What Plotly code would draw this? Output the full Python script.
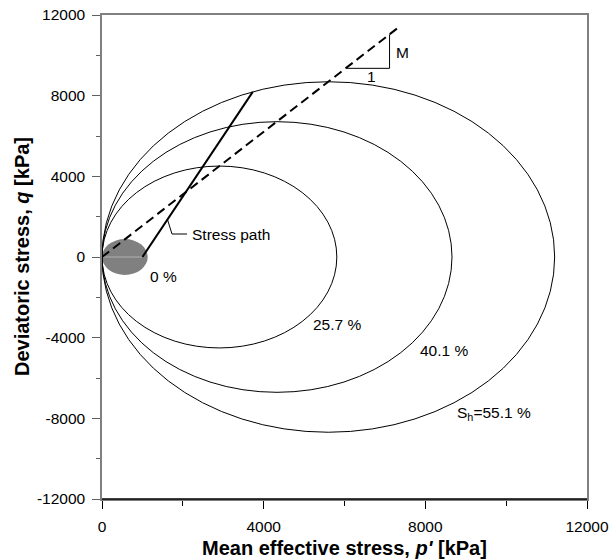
import plotly.graph_objects as go

# Yield surfaces (modified Cam-clay ellipses) for each hydrate saturation
sat_labels = ["0 %", "25.7 %", "40.1 %", "S<sub>h</sub>=55.1 %"]
p_c = [1130, 5810, 8660, 11200]      # right end of each ellipse, kPa
q_max = [890, 4510, 6710, 8690]      # ellipse half height, kPa

# Critical state line
csl_p = [0, 7300]
csl_q = [0, 11330]

# Stress path
sp_p = [1000, 3730]
sp_q = [0, 8190]

# Slope triangle
tri_p = [6060, 7115, 7115]
tri_q = [9355, 9355, 11040]

x_ticks = [0, 4000, 8000, 12000]
y_ticks = [-12000, -8000, -4000, 0, 4000, 8000, 12000]

FONT = "Liberation Sans, Arial, sans-serif"
FS = 15.5

W, H = 611, 559
L, R, T, B = 102, 24, 15, 60
pw, ph = W - L - R, H - T - B

fig = go.Figure()

fig.add_trace(go.Scatter(x=csl_p, y=csl_q, mode="lines",
                         line=dict(color="black", width=2, dash="9px,5px"),
                         showlegend=False, hoverinfo="skip"))
fig.add_trace(go.Scatter(x=sp_p, y=sp_q, mode="lines",
                         line=dict(color="black", width=2),
                         showlegend=False, hoverinfo="skip"))
fig.add_trace(go.Scatter(x=tri_p, y=tri_q, mode="lines",
                         line=dict(color="black", width=1),
                         showlegend=False, hoverinfo="skip"))
fig.add_trace(go.Scatter(x=[1624, 1732, 2103], y=[1834, 1140, 1140], mode="lines",
                         line=dict(color="black", width=1),
                         showlegend=False, hoverinfo="skip"))

shapes = []
for i, (pc, qm) in enumerate(zip(p_c, q_max)):
    if i == 0:
        shapes.append(dict(type="circle", xref="x", yref="y", x0=0, x1=pc, y0=-qm, y1=qm,
                           fillcolor="#808080", line=dict(width=0), layer="below"))
        shapes.append(dict(type="line", xref="x", yref="y", x0=0, x1=sp_p[0], y0=0, y1=0,
                           line=dict(color="#b0b0b0", width=1), layer="below"))
    else:
        shapes.append(dict(type="circle", xref="x", yref="y", x0=0, x1=pc, y0=-qm, y1=qm,
                           line=dict(color="black", width=1), layer="below"))
# black bottom axis line over the gray mirrored frame
shapes.append(dict(type="line", xref="paper", yref="paper", x0=0, x1=1, y0=0, y1=0,
                   line=dict(color="black", width=1.5)))

label_pos = [(1130, -950), (5171, -3371), (7818, -4646), (8741, -7784)]
annotations = []
for txt, (px, py) in zip(sat_labels, label_pos):
    annotations.append(dict(x=px, y=py, xref="x", yref="y", text=txt, showarrow=False,
                            xanchor="left", yanchor="middle",
                            font=dict(family=FONT, size=FS, color="black")))
annotations += [
    dict(x=2185, y=1140, xref="x", yref="y", text="Stress path", showarrow=False,
         xanchor="left", yanchor="middle", font=dict(family=FONT, size=FS, color="black")),
    dict(x=7230, y=10164, xref="x", yref="y", text="M", showarrow=False,
         xanchor="left", yanchor="middle", font=dict(family=FONT, size=FS, color="black")),
    dict(x=6663, y=8974, xref="x", yref="y", text="1", showarrow=False,
         xanchor="center", yanchor="middle", font=dict(family=FONT, size=FS, color="black")),
    dict(x=0.5, y=-(548 - 499) / ph, xref="paper", yref="paper",
         text="<b>Mean effective stress, <i>p'</i> [kPa]</b>",
         showarrow=False, xanchor="center", yanchor="middle",
         font=dict(family=FONT, size=20, color="black")),
    dict(x=(22 - 102) / pw, y=0.5, xref="paper", yref="paper",
         text="<b>Deviatoric stress, <i>q</i> [kPa]</b>", showarrow=False,
         textangle=-90, xanchor="center", yanchor="middle",
         font=dict(family=FONT, size=20, color="black")),
]

fig.update_layout(
    width=W, height=H,
    margin=dict(l=L, r=R, t=T, b=B, autoexpand=False),
    plot_bgcolor="white", paper_bgcolor="white",
    showlegend=False,
    shapes=shapes, annotations=annotations,
    font=dict(family=FONT, size=FS, color="black"),
    xaxis=dict(range=[0, 12000], tickvals=x_ticks, ticktext=[str(v) for v in x_ticks],
               showgrid=False, zeroline=False, showline=True, linecolor="#808080", linewidth=1.5,
               mirror=True, ticks="outside", ticklen=8, tickcolor="black", tickwidth=1,
               ticklabelstandoff=5, ticklabeloverflow="allow",
               minor=dict(dtick=2000, tick0=0, ticks="outside", ticklen=5, tickcolor="black", showgrid=False),
               tickfont=dict(family=FONT, size=FS, color="black")),
    yaxis=dict(range=[-12000, 12000], tickvals=y_ticks, ticktext=[str(v) for v in y_ticks],
               showgrid=False, zeroline=False, showline=True, linecolor="#808080", linewidth=1.5,
               mirror=True, ticks="outside", ticklen=8, tickcolor="#606060", tickwidth=1,
               ticklabelstandoff=4, ticklabeloverflow="allow",
               minor=dict(dtick=2000, tick0=0, ticks="outside", ticklen=4, tickcolor="#606060", showgrid=False),
               tickfont=dict(family=FONT, size=FS, color="black")),
)

fig.write_html("out.html", config={"displayModeBar": False},
               post_script="document.body.style.margin='0';document.body.style.overflow='hidden';")
